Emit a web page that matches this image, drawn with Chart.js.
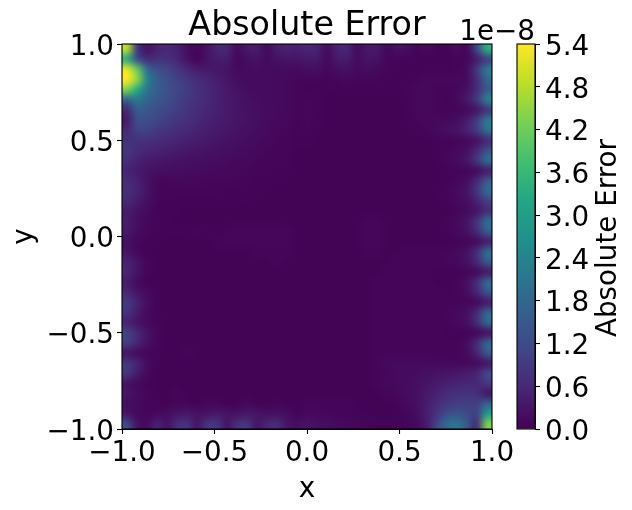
<!DOCTYPE html>
<html>
<head>
<meta charset="utf-8">
<title>Absolute Error</title>
<script src="https://cdn.jsdelivr.net/npm/chart.js@4"></script>
<style>
html, body { margin: 0; padding: 0; background: #fff; }
#wrap { position: relative; width: 632px; height: 510px; overflow: hidden; }
canvas { position: absolute; left: 0; top: 0; }
</style>
</head>
<body>
<div id="wrap">
	<canvas id="field" width="632" height="510"></canvas>
	<canvas id="colorbar" width="632" height="510"></canvas>
</div>
<script>
var titleText = "Absolute Error";
var xLabel = "x";
var yLabel = "y";
var barLabel = "Absolute Error";
var offsetLabel = "1e\u22128";

var axisTicks = [-1, -0.5, 0, 0.5, 1];
var barTicks = [0, 0.6, 1.2, 1.8, 2.4, 3, 3.6, 4.2, 4.8, 5.4];

var viridis = ["#440154", "#482475", "#414487", "#355f8d", "#2a788e", "#21918c", "#22a884", "#44bf70", "#7ad151", "#bddf26", "#fde725"];

// error, unit 1e-10, row 0 is y = 1 side, column 0 is x = -1 side
var errorRows = [
	[480,90,25,50,60,50,20,8,25,55, 55,15,35,40,12,40,50,45,55,50, 15,50,55,15,35,35,8,22,18,6, 15,5,5,18,10,120,340],
	[330,130,65,75,72,55,25,6,25,40, 40,10,20,25,15,25,30,30,35,35, 12,35,38,15,28,25,8,8,6,5, 5,5,5,8,10,40,100],
	[520,410,195,130,110,85,60,40,35,32, 28,14,16,18,16,15,15,14,20,20, 10,20,22,12,18,12,7,6,6,6, 6,6,6,8,15,90,220],
	[540,450,240,160,130,105,85,68,55,42, 32,20,14,16,16,14,13,8,8,8, 6,8,12,8,8,7,6,6,6,7, 11,11,11,11,15,70,180],
	[430,330,210,160,135,112,92,75,60,46, 35,26,18,16,16,14,13,8,6,6, 5,5,6,6,6,6,6,6,8,11, 11,8,6,10,25,70,150],
	[170,215,170,145,125,105,88,72,60,47, 37,29,22,18,16,14,13,7,10,8, 4,4,4,4,4,4,4,4,5,11, 12,7,6,12,35,90,240],
	[60,160,145,125,110,95,80,68,56,46, 37,30,24,20,17,14,12,7,10,8, 4,4,4,4,4,4,4,4,5,11, 12,8,7,8,14,30,80],
	[40,125,125,108,95,82,72,60,50,42, 35,29,24,20,16,13,11,6,10,6, 4,4,4,4,4,4,4,4,5,10, 11,12,12,18,40,95,215],
	[60,105,105,88,78,68,60,50,43,37, 31,26,22,18,14,11,9,5,9,5, 4,4,4,4,4,4,4,4,4,5, 10,14,22,28,50,95,200],
	[75,75,75,68,60,52,46,40,35,30, 26,22,18,15,12,9,8,5,6,4, 4,4,4,4,4,4,4,4,4,4, 4,6,6,8,12,25,60],
	[85,65,56,50,44,38,33,29,26,23, 20,17,14,12,10,8,7,4,4,4, 4,4,4,4,4,4,4,4,4,4, 4,5,8,12,22,60,130],
	[70,50,38,34,30,26,23,21,19,17, 15,13,12,10,8,7,6,4,4,4, 4,4,4,4,4,4,4,4,4,4, 4,5,10,16,32,85,190],
	[50,40,26,22,20,18,17,15,14,13, 12,11,10,8,7,6,5,4,4,4, 4,4,4,4,4,4,4,4,4,4, 4,4,5,6,8,15,40],
	[65,48,25,10,9,11,11,11,10,9, 9,8,7,6,5,5,4,4,4,4, 4,4,4,4,4,4,4,4,4,4, 4,4,5,10,20,60,150],
	[70,50,28,10,6,7,8,8,8,7, 6,6,5,5,4,4,4,4,4,4, 4,4,4,4,4,4,4,4,4,4, 4,5,8,16,30,85,190],
	[60,40,22,8,5,5,5,6,6,6, 6,5,5,4,4,4,4,4,4,4, 4,4,4,4,4,4,4,4,4,4, 4,4,6,12,22,50,100],
	[40,25,14,6,5,5,4,4,4,4, 4,4,4,4,4,4,4,4,4,4, 4,4,4,4,4,4,4,4,4,4, 4,4,4,8,14,30,70],
	[40,22,10,5,5,4,4,4,4,4, 4,4,4,4,4,4,4,4,4,4, 4,4,4,4,9,9,4,4,4,4, 4,4,7,14,28,80,190],
	[35,18,10,6,5,5,6,7,6,5, 9,9,9,9,9,9,9,4,4,4, 4,4,4,4,9,9,4,4,4,4, 4,4,6,12,25,65,160],
	[22,10,6,5,4,4,4,4,4,8, 9,9,9,9,9,9,9,4,4,4, 4,4,4,4,9,9,4,4,4,4, 4,4,4,6,8,15,40],
	[30,10,5,4,4,4,4,4,4,4, 4,4,4,8,8,8,8,4,4,4, 4,4,4,4,8,8,4,4,8,8, 8,8,9,12,25,70,190],
	[50,28,8,4,4,4,4,4,4,4, 4,4,4,4,4,8,4,4,4,4, 4,4,4,4,4,4,4,8,8,8, 8,8,10,14,25,60,150],
	[55,28,8,4,4,4,4,4,4,4, 4,4,4,4,4,4,4,4,4,4, 4,4,4,4,4,4,8,8,8,8, 8,5,5,5,7,14,35],
	[40,15,5,4,4,4,4,4,4,4, 4,4,4,4,4,4,4,4,4,4, 4,4,4,4,4,8,8,8,8,8, 8,4,5,8,22,70,185],
	[55,30,14,5,4,4,4,4,4,4, 4,4,4,4,4,4,4,4,4,4, 4,4,4,4,4,8,8,8,8,8, 8,8,5,8,18,55,140],
	[90,50,20,5,4,4,4,4,4,4, 4,4,4,4,4,4,4,4,4,4, 4,4,4,4,4,8,8,8,8,8, 8,8,8,8,8,14,35],
	[80,40,15,5,4,4,4,4,4,4, 4,4,4,4,4,4,4,4,4,4, 4,4,4,4,4,8,8,8,8,8, 8,8,9,13,22,65,175],
	[50,30,14,7,4,4,4,4,4,4, 4,4,4,4,4,4,4,4,4,4, 4,4,4,4,4,8,8,8,8,8, 8,8,8,12,22,70,180],
	[105,60,28,10,4,4,4,4,4,4, 4,4,4,4,4,4,4,4,4,4, 4,4,4,4,4,8,8,8,8,8, 8,8,6,5,6,10,25],
	[95,55,25,8,4,4,4,4,4,4, 4,4,4,4,4,4,4,4,4,4, 4,4,4,4,4,8,8,8,8,8, 8,8,8,7,18,65,170],
	[30,15,8,5,4,4,8,4,4,4, 4,4,4,4,4,4,4,4,4,4, 4,4,4,4,4,8,8,8,8,8, 8,8,8,8,15,55,150],
	[85,50,18,5,4,4,4,4,4,4, 4,4,4,4,4,4,4,4,4,4, 4,4,4,4,4,10,12,14,14,14, 14,13,12,10,12,16,30],
	[85,40,12,4,4,4,4,4,4,4, 4,4,4,4,4,4,4,4,4,4, 4,4,4,4,4,8,10,14,16,18, 22,26,30,34,40,55,115],
	[25,12,6,4,4,4,4,4,4,4, 4,4,4,4,4,4,4,4,4,4, 4,4,4,4,4,8,12,14,18,22, 30,38,45,52,58,60,90],
	[30,16,10,5,4,8,4,4,4,4, 4,4,4,4,4,4,4,4,4,4, 4,4,4,4,4,4,8,12,16,24, 35,50,65,75,78,70,30],
	[18,14,8,5,4,8,8,4,10,10, 4,4,12,4,4,8,4,4,8,8, 8,8,8,4,4,4,4,6,14,22, 42,65,85,95,100,100,170],
	[30,12,8,14,18,30,35,25,28,35, 30,26,35,30,22,25,20,5,14,12, 10,8,6,5,4,4,4,5,10,20, 45,80,125,135,120,105,290],
	[120,25,15,50,25,70,80,30,80,85, 30,75,85,30,55,65,30,20,30,22, 18,14,12,10,8,5,5,5,8,15, 40,110,190,210,150,70,430]
];

var errorMax = 540;
var nCols = errorRows[0].length;
var nRows = errorRows.length;
var tickFont = { family: "DejaVu Sans", size: 27.8 };
var minus = "\u2212";

function hexToRgb(h)
{
	return [parseInt(h.substr(1, 2), 16), parseInt(h.substr(3, 2), 16), parseInt(h.substr(5, 2), 16)];
}

function viridisColor(t)
{
	t = Math.max(0, Math.min(1, t));
	var p = t * (viridis.length - 1);
	var i = Math.min(Math.floor(p), viridis.length - 2);
	var a = hexToRgb(viridis[i]);
	var b = hexToRgb(viridis[i + 1]);
	var f = p - i;
	return "rgb(" + Math.round(a[0] + (b[0] - a[0]) * f) + "," + Math.round(a[1] + (b[1] - a[1]) * f) + "," + Math.round(a[2] + (b[2] - a[2]) * f) + ")";
}

function tickText(v)
{
	var s = Math.abs(v).toFixed(1);
	return v < 0 ? minus + s : s;
}

var cells = [];
errorRows.forEach(function(row, i)
{
	row.forEach(function(v, j)
	{
		cells.push({ x: -1 + (j + 0.5) * 2 / nCols, y: 1 - (i + 0.5) * 2 / nRows, v: v });
	});
});

// resample the drawn cells so the field is shaded smoothly, like the original contours
var smoothField = {
	id: "smoothField",
	afterDatasetsDraw: function(chart)
	{
		var a = chart.chartArea;
		var tmp = document.createElement("canvas");
		tmp.width = nCols;
		tmp.height = nRows;
		var t = tmp.getContext("2d");
		t.imageSmoothingEnabled = false;
		t.drawImage(chart.canvas, a.left, a.top, a.right - a.left, a.bottom - a.top, 0, 0, nCols, nRows);
		var c = chart.ctx;
		c.save();
		c.imageSmoothingEnabled = true;
		c.imageSmoothingQuality = "high";
		c.drawImage(tmp, a.left, a.top, a.right - a.left, a.bottom - a.top);
		c.restore();
	}
};

var frameBox = {
	id: "frameBox",
	afterDraw: function(chart)
	{
		var a = chart.chartArea;
		var c = chart.ctx;
		c.save();
		c.strokeStyle = "#000";
		c.lineWidth = 1.1;
		c.strokeRect(a.left, a.top, a.right - a.left, a.bottom - a.top);
		c.restore();
	}
};

var barText = {
	id: "barText",
	afterDraw: function(chart)
	{
		var c = chart.ctx;
		c.save();
		c.fillStyle = "#000";
		c.font = "27.8px 'DejaVu Sans'";
		c.textBaseline = "alphabetic";
		c.textAlign = "right";
		c.fillText(offsetLabel, 535, 40);
		c.translate(609, 238);
		c.rotate(-Math.PI / 2);
		c.textAlign = "center";
		c.textBaseline = "middle";
		c.fillText(barLabel, 0, 0);
		c.restore();
	}
};

function axisOptions(label, fit, labelOffset, titleTop)
{
	return {
		type: "linear",
		min: -1,
		max: 1,
		afterBuildTicks: function(scale) { scale.ticks = axisTicks.map(function(v) { return { value: v }; }); },
		afterFit: fit,
		border: { display: true, color: "#000", width: 1 },
		grid: { display: true, drawOnChartArea: false, drawTicks: true, tickLength: 5, tickColor: "#000", tickWidth: 1.1 },
		ticks: {
			color: "#000",
			font: tickFont,
			padding: 3,
			labelOffset: labelOffset,
			autoSkip: false,
			maxRotation: 0,
			callback: function(v) { return tickText(v); }
		},
		title: { display: true, text: label, color: "#000", font: tickFont, padding: { top: titleTop, bottom: 4 } }
	};
}

new Chart(document.getElementById("field").getContext("2d"), {
	type: "scatter",
	data: {
		datasets: [{
			label: titleText,
			data: cells,
			pointStyle: "rect",
			pointRadius: 8.5,
			pointBorderWidth: 0,
			pointBackgroundColor: function(ctx) { return viridisColor(ctx.raw.v / errorMax); }
		}]
	},
	options: {
		responsive: false,
		animation: false,
		events: [],
		layout: { padding: { top: 0, right: 140, bottom: 0, left: 0 } },
		plugins: {
			legend: { display: false },
			tooltip: { enabled: false },
			title: {
				display: true,
				text: titleText,
				color: "#000",
				fullSize: false,
				font: { family: "DejaVu Sans", size: 33.3, weight: "normal", lineHeight: 1 },
				padding: { top: 10, bottom: 0.7 }
			}
		},
		scales: {
			x: axisOptions(xLabel, function(s) { s.height = 81; }, 0, 4),
			y: axisOptions(yLabel, function(s) { s.width = 122; }, 3.5, 8)
		}
	},
	plugins: [smoothField, frameBox]
});

new Chart(document.getElementById("colorbar").getContext("2d"), {
	type: "bar",
	data: {
		labels: [barLabel],
		datasets: [{
			data: [[barTicks[0], barTicks[barTicks.length - 1]]],
			barPercentage: 1,
			categoryPercentage: 1,
			backgroundColor: function(ctx)
			{
				var a = ctx.chart.chartArea;
				if (!a) return viridis[0];
				var g = ctx.chart.ctx.createLinearGradient(0, a.bottom, 0, a.top);
				viridis.forEach(function(col, i) { g.addColorStop(i / (viridis.length - 1), col); });
				return g;
			}
		}]
	},
	options: {
		responsive: false,
		animation: false,
		events: [],
		layout: { padding: { top: 44, right: 0, bottom: 81, left: 517 } },
		plugins: { legend: { display: false }, tooltip: { enabled: false } },
		scales: {
			x: { display: false },
			y: {
				position: "right",
				min: barTicks[0],
				max: barTicks[barTicks.length - 1],
				afterBuildTicks: function(scale) { scale.ticks = barTicks.map(function(v) { return { value: v }; }); },
				afterFit: function(s) { s.width = 97; },
				border: { display: true, color: "#000", width: 1 },
				grid: { display: true, drawOnChartArea: false, drawTicks: true, tickLength: 5, tickColor: "#000", tickWidth: 1.1 },
				ticks: {
					color: "#000",
					font: tickFont,
					padding: 5,
					labelOffset: 3.5,
					autoSkip: false,
					callback: function(v) { return tickText(v); }
				}
			}
		}
	},
	plugins: [frameBox, barText]
});
</script>
</body>
</html>
